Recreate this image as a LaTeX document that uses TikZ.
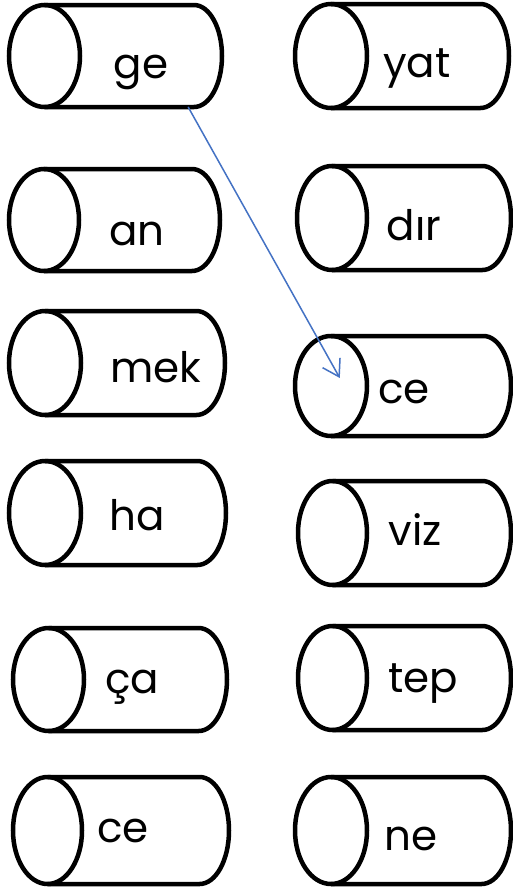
\documentclass[tikz,border=0pt]{standalone}
\usepackage{fontspec}
\setmainfont{Poppins}
\usetikzlibrary{fit,calc,arrows.meta}
\definecolor{arrowblue}{RGB}{68,114,196}
\tikzset{
  cylline/.style={line width=4.5pt, draw=black},
  cylbox/.style={inner sep=0pt, draw=none},
  word/.style={anchor=base, inner sep=0pt, font=\fontsize{42}{42}\selectfont},
  link/.style={draw=arrowblue, line width=1.5pt, line cap=round, -{Straight Barb[length=16pt,width=20pt,line width=1.5pt]}}
}
\newcommand{\cylshape}[6]{%
  \pgfmathsetmacro\cylcx{(#2+#6)/2}%
  \pgfmathsetmacro\cylrx{(#6-#2)/2}%
  \pgfmathsetmacro\cylry{(#5-#3)/2}%
  \pgfmathsetmacro\cylcy{(#3+#5)/2}%
  \pgfmathsetmacro\cylrr{\cylry*0.55}%
  \pgfmathsetmacro\cylrs{#4-\cylrr}%
  \node[cylbox, fit={(#2,#3) (#4,#5)}] (#1) {};
  \draw[cylline] (\cylcx,#3) -- (\cylrs,#3) arc[start angle=90,end angle=-90,x radius=\cylrr pt,y radius=\cylry pt] -- (\cylcx,#5);
  \draw[cylline] (\cylcx,\cylcy) ellipse[x radius=\cylrx pt, y radius=\cylry pt];
}
\begin{document}
\begin{tikzpicture}[x=1pt,y=-1pt]
\useasboundingbox[fill=white] (0,0) rectangle (513,892);
% left column
\cylshape{ge}{9}{5}{222}{107}{80}
\cylshape{an}{9}{169}{220}{271}{79}
\cylshape{mek}{9}{311}{225}{415}{81}
\cylshape{ha}{9}{461}{226}{565}{81}
\cylshape{ca}{13}{628}{227}{731}{84}
\cylshape{ceL}{13}{777}{229}{884}{82}
% right column
\cylshape{yat}{295}{4}{509}{108}{367}
\cylshape{dir}{297}{166}{511}{270}{367}
\cylshape{ceR}{295}{336}{511}{436}{367}
\cylshape{viz}{298}{481}{511}{585}{367}
\cylshape{tep}{298}{626}{511}{730}{367}
\cylshape{ne}{295}{777}{511}{884}{367}
% words
\node[word] (tge) at (141,78) {ge};
\node[word] (tan) at (137,245) {an};
\node[word] (tmek) at (156,382) {mek};
\node[word] (tha) at (137,530) {ha};
\node[word] (tca) at (132,693) {ça};
\node[word] (tceL) at (123,842) {ce};
\node[word] (tyat) at (417,77) {yat};
\node[word] (tdir) at (414,240) {dır};
\node[word] (tceR) at (404,403) {ce};
\node[word] (tviz) at (415,545) {viz};
\node[word] (ttep) at (423,692) {tep};
\node[word] (tne) at (411,850) {ne};
% arrow
\coordinate (astart) at ($(ge.south west)!0.841!(ge.south east)$);
\coordinate (aend) at ($(ceR.west)+(45,-8)$);
\draw[link] (astart) -- (aend);
\end{tikzpicture}
\end{document}
